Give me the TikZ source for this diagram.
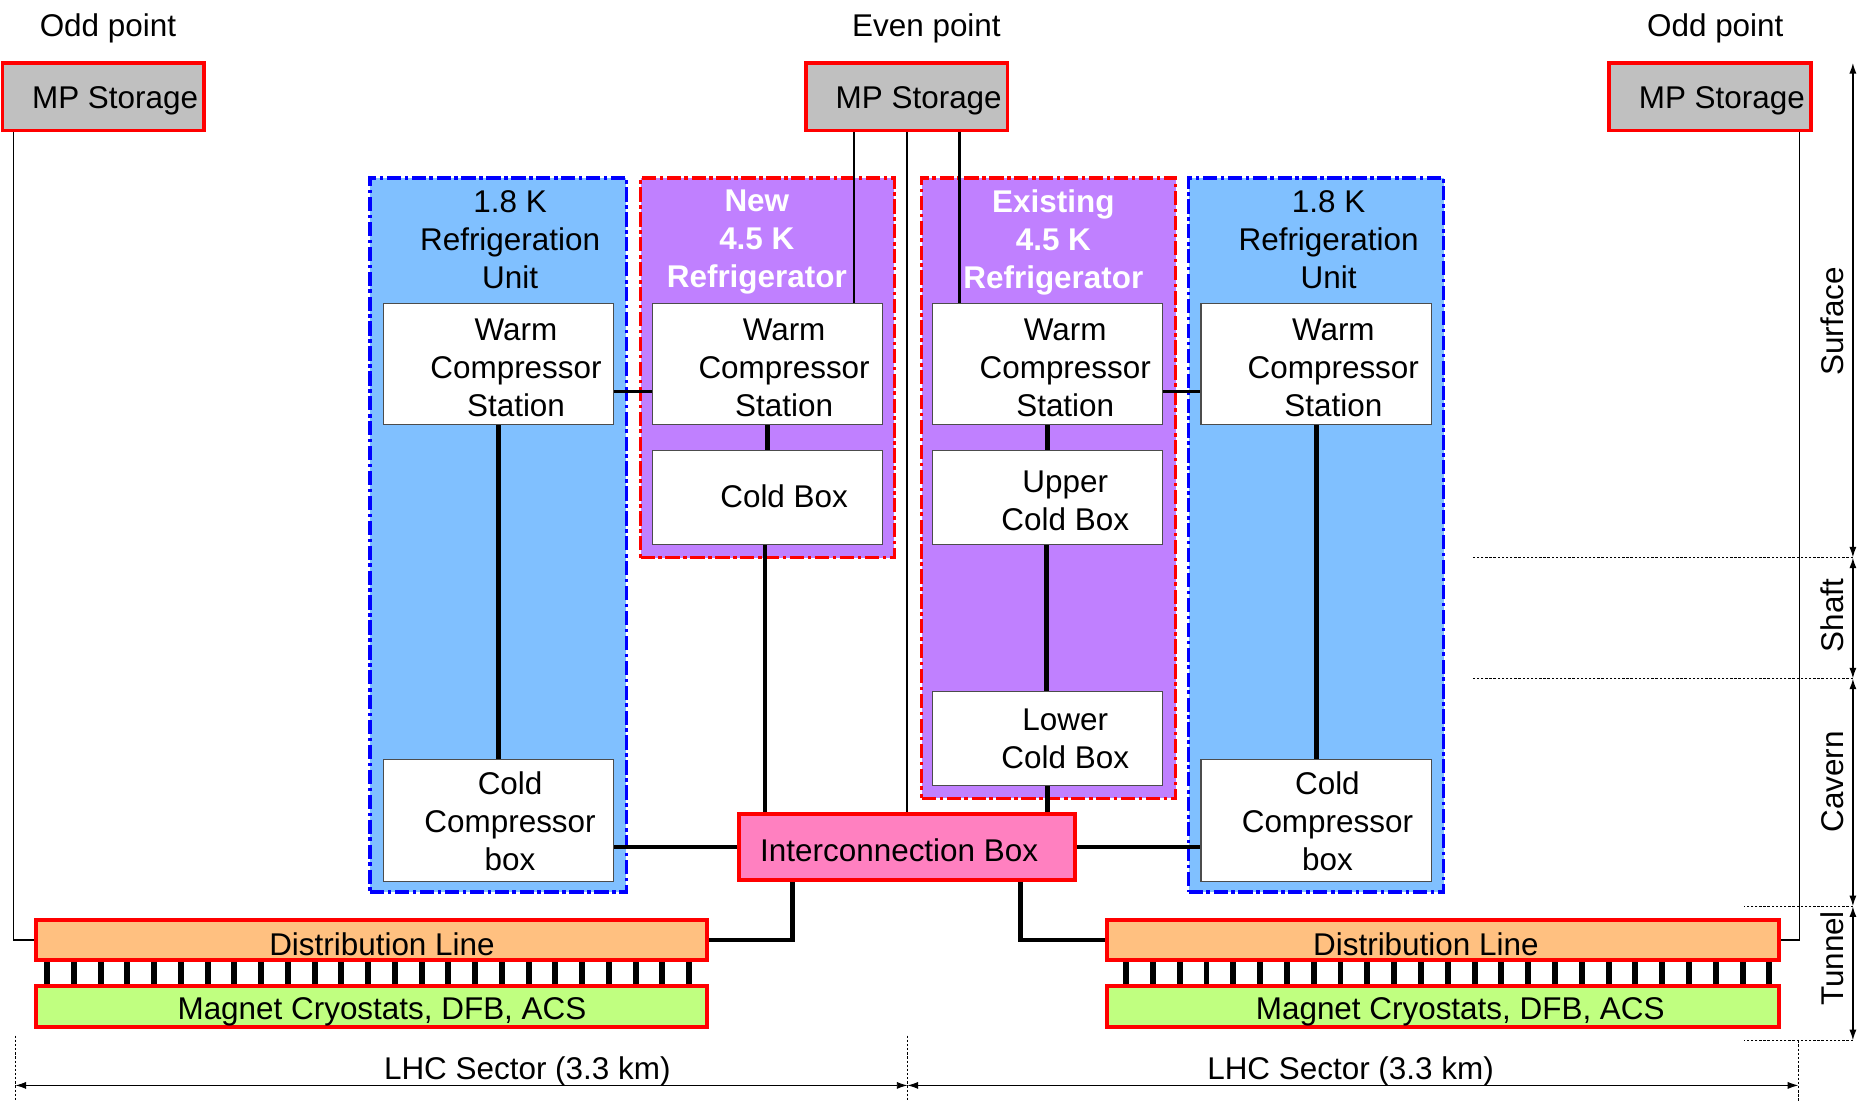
\documentclass[tikz,border=0pt]{standalone}
\usepackage{fontspec}
\setmainfont{Liberation Sans}
\usepackage{tikz}
\usetikzlibrary{arrows.meta,positioning,calc}

\definecolor{storegray}{HTML}{C0C0C0}
\definecolor{unitblue}{HTML}{80C0FF}
\definecolor{refpurple}{HTML}{C080FF}
\definecolor{ibpink}{HTML}{FF80C0}
\definecolor{dlorange}{HTML}{FFC080}
\definecolor{magreen}{HTML}{C0FF80}

\begin{document}
\begin{tikzpicture}[
  x=1pt, y=-1pt,
  font=\fontsize{26.5}{32}\selectfont,
  txt/.style={align=center, inner sep=0pt},
  ttl/.style={txt, text=white, font=\fontsize{26.5}{32}\selectfont\bfseries},
  store/.style={draw=red, line width=3pt, fill=storegray,
                minimum width=170pt, minimum height=57pt, inner sep=0pt},
  dashdot/.style={line width=3pt, dash pattern=on 12pt off 3pt on 3pt off 3pt},
  unitbox/.style={dashdot, draw=blue, fill=unitblue, inner sep=0pt},
  refbox/.style={dashdot, draw=red, fill=refpurple, inner sep=0pt},
  wbox/.style={draw=black!70, line width=1pt, fill=white,
               minimum width=194pt, minimum height=102pt, inner sep=0pt},
  ibox/.style={draw=red, line width=3.5pt, fill=ibpink,
               minimum width=283pt, minimum height=56pt, inner sep=0pt},
  lnbox/.style={draw=red, line width=3.5pt, minimum width=566pt,
                minimum height=34pt, inner sep=0pt},
  pipe/.style={line width=4pt},
  feed/.style={line width=1.2pt},
  rung/.style={line width=5pt},
  lvl/.style={line width=1.2pt, dash pattern=on 2pt off 1.5pt},
  dim/.style={<->, >={Latex[length=9pt,width=6pt]}, line width=1.2pt}]
  \useasboundingbox (0,0) rectangle (1568,929);

  % storages on the surface
  \node[txt] (oddl) at (91,24) {Odd point};
  \node[txt] (even) at (781,24) {Even point};
  \node[txt] (oddr) at (1446,24) {Odd point};
  \node[store] (mpl) at (87,81.5) {};
  \node[store] (mpm) at (764.5,81.5) {};
  \node[store] (mpr) at (1441.5,81.5) {};
  \node[txt] (mplt) at (97,85) {MP Storage};
  \node[txt] (mpmt) at (774.5,85) {MP Storage};
  \node[txt] (mprt) at (1451.5,85) {MP Storage};

  % refrigeration units
  \node[unitbox, minimum width=216pt, minimum height=602pt] (ru1) at (420,451) {};
  \node[refbox, minimum width=214pt, minimum height=320pt] (nref) at (647,310) {};
  \node[refbox, minimum width=214pt, minimum height=523pt] (xref) at (884,411.5) {};
  \node[unitbox, minimum width=215pt, minimum height=602pt] (ru2) at (1109.5,451) {};
  \node[txt] (ru1t) at (430,202) {1.8 K\\Refrigeration\\Unit};
  \node[ttl] (nreft) at (638,204) {New\\4.5 K\\Refrigerator};
  \node[ttl] (xreft) at (888,204) {Existing\\4.5 K\\Refrigerator};
  \node[txt] (ru2t) at (1120,202) {1.8 K\\Refrigeration\\Unit};

  \node[wbox] (wc1) at (420.5,307) {};
  \node[wbox] (wc2) at (647,307) {};
  \node[wbox] (wc3) at (883,307) {};
  \node[wbox] (wc4) at (1109.5,307) {};
  \node[wbox, minimum height=79pt] (cb)  at (647,419.5) {};
  \node[wbox, minimum height=79pt] (ucb) at (883,419.5) {};
  \node[wbox, minimum height=79pt] (lcb) at (883,622.5) {};
  \node[wbox, minimum height=103pt] (cc1) at (420.5,691.5) {};
  \node[wbox, minimum height=103pt] (cc2) at (1109.5,691.5) {};
  \node[txt] (wc1t) at (435,310) {Warm\\Compressor\\Station};
  \node[txt] (wc2t) at (661,310) {Warm\\Compressor\\Station};
  \node[txt] (wc3t) at (898,310) {Warm\\Compressor\\Station};
  \node[txt] (wc4t) at (1124,310) {Warm\\Compressor\\Station};
  \node[txt] (cbt)  at (661,418) {Cold Box};
  \node[txt] (ucbt) at (898,422) {Upper\\Cold Box};
  \node[txt] (lcbt) at (898,623) {Lower\\Cold Box};
  \node[txt] (cc1t) at (430,692) {Cold\\Compressor\\box};
  \node[txt] (cc2t) at (1119,692) {Cold\\Compressor\\box};

  % cavern and tunnel
  \node[ibox] (ib) at (764.5,714) {};
  \node[txt] (ibt) at (758,717) {Interconnection Box};
  \node[lnbox, fill=dlorange] (dll) at (313,792.5) {};
  \node[lnbox, fill=magreen] (mcl) at (313,848.5) {};
  \node[lnbox, fill=dlorange] (dlr) at (1216.5,792.5) {};
  \node[lnbox, fill=magreen] (mcr) at (1216.5,848.5) {};
  \node[txt] (dllt) at (322,796) {Distribution Line};
  \node[txt] (mclt) at (322,853) {Magnet Cryostats, DFB, ACS};
  \node[txt] (dlrt) at (1202,796) {Distribution Line};
  \node[txt] (mcrt) at (1231,853) {Magnet Cryostats, DFB, ACS};

  % warm feeds
  \draw[feed] ([xshift=11pt]mpl.south west) |- (dll.west);
  \draw[feed] ([xshift=-11pt]mpr.south east) |- (dlr.east);
  \draw[feed] ([xshift=-44.5pt]mpm.south) -- ([xshift=-44.5pt]mpm.south |- wc2.north);
  \draw[feed] (mpm.south) -- (ib.north);
  \draw[feed, line width=2pt] ([xshift=44.5pt]mpm.south) -- ([xshift=44.5pt]mpm.south |- wc3.north);
  \draw[line width=2pt] ([yshift=-23pt]wc1.east) -- ([yshift=-23pt]wc2.west);
  \draw[line width=2pt] ([yshift=-23pt]wc3.east) -- ([yshift=-23pt]wc4.west);

  % cold lines
  \draw[pipe] (wc1.south) -- (cc1.north);
  \draw[pipe] (wc2.south) -- (cb.north);
  \draw[pipe] ([xshift=-2pt]cb.south) -- ([xshift=-2pt]cb.south |- ib.north);
  \draw[pipe] (wc3.south) -- (ucb.north);
  \draw[pipe] ([xshift=-1pt]ucb.south) -- ([xshift=-1pt]lcb.north);
  \draw[pipe] (lcb.south) -- (lcb.south |- ib.north);
  \draw[pipe] (wc4.south) -- (cc2.north);
  \draw[pipe] (ib.west) -- (ib.west -| cc1.east);
  \draw[pipe] (ib.east) -- (ib.east -| cc2.west);
  \draw[pipe] ([xshift=-96.5pt]ib.south) |- (dll.east);
  \draw[pipe] ([xshift=95.5pt]ib.south) |- (dlr.west);

  \foreach \i in {0,...,24} {
    \draw[rung] ([xshift={11.5pt+\i*22.55pt}]dll.south west) -- ([xshift={11.5pt+\i*22.55pt}]mcl.north west);
    \draw[rung] ([xshift={17.5pt+\i*22.6pt}]dlr.south west) -- ([xshift={17.5pt+\i*22.6pt}]mcr.north west);
  }

  % levels
  \coordinate (axtop) at (1562,53);
  \coordinate (axshaft) at (1562,470);
  \coordinate (axcavern) at (1562,572);
  \coordinate (axtunnel) at (1562,764);
  \coordinate (axbot) at (1562,877);
  \draw[lvl] (axshaft) -- ++(-322,0);
  \draw[lvl] (axcavern) -- ++(-322,0);
  \draw[lvl] (axtunnel) -- ++(-92,0);
  \draw[lvl] (axbot) -- ++(-92,0);
  \draw[dim] (axtop) -- (axshaft);
  \draw[dim] (axshaft) -- (axcavern);
  \draw[dim] (axcavern) -- (axtunnel);
  \draw[dim] (axtunnel) -- (axbot);
  \node[txt, rotate=90] (surf) at (1545,271) {Surface};
  \node[txt, rotate=90] (shaft) at (1545,519) {Shaft};
  \node[txt, rotate=90] (cav) at (1545,659) {Cavern};
  \node[txt, rotate=90] (tun) at (1545,808) {Tunnel};

  % sectors
  \coordinate (secl) at (13,915);
  \coordinate (secm) at (765,915);
  \coordinate (secr) at (1516,915);
  \draw[lvl, line width=0.8pt] (secl) ++(0,-42) -- ++(0,56);
  \draw[lvl, line width=0.8pt] (secm) ++(0,-42) -- ++(0,56);
  \draw[lvl, line width=0.8pt] (secr) ++(0,-38) -- ++(0,52);
  \draw[dim, line width=0.8pt] (secl) -- (secm);
  \draw[dim, line width=0.8pt] (secm) -- (secr);
  \node[txt] (secA) at (444.5,903) {LHC Sector (3.3 km)};
  \node[txt] (secB) at (1138.5,903) {LHC Sector (3.3 km)};
\end{tikzpicture}
\end{document}
